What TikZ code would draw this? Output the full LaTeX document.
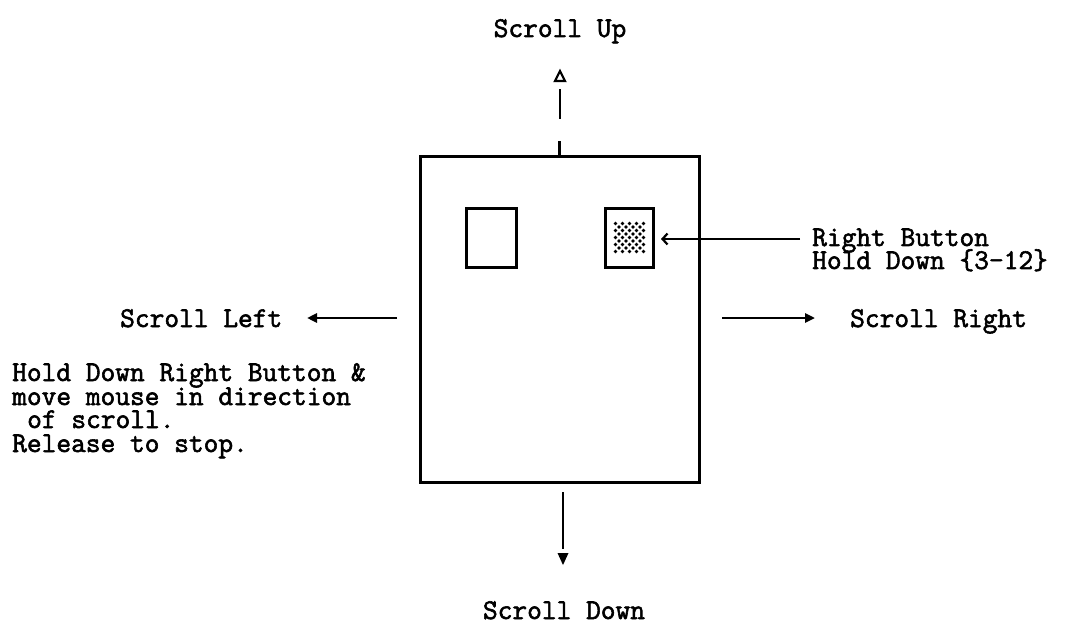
\documentclass[tikz,border=0pt]{standalone}
\usepackage{fontspec}
\setmonofont{Latin Modern Mono}[FakeBold=2]
\usetikzlibrary{arrows.meta}
\begin{document}
\begin{tikzpicture}[x=1pt,y=-1pt,
  lbl/.style={font=\ttfamily\fontsize{28.6}{24}\selectfont, inner sep=0pt, anchor=base west},
  clbl/.style={lbl, anchor=base},
  box/.style={draw, line width=3pt, inner sep=0pt},
  conn/.style={line width=2.6pt},
  tri/.style={conn, -{Triangle[length=10pt,width=9pt]}},
  barb/.style={line width=2.2pt, -{Straight Barb[length=5pt,width=11pt]}}
]
\useasboundingbox (0,0) rectangle (1067,628);
% mouse body and buttons
\node[box, minimum width=279pt, minimum height=325pt] (body) at (559.5,319.5) {};
\node[box, minimum width=50pt, minimum height=58pt] (lbtn) at (491,238) {};
\node[box, minimum width=48pt, minimum height=58pt] (rbtn) at (629.5,238) {};
\foreach \i in {0,...,8}{\foreach \j in {0,...,8}{%
  \ifodd\numexpr\i+\j\relax\else\fill (615.5+3.5*\i,223.5+3.5*\j) circle (1.8pt);\fi}}
% labels
\node[clbl] (up) at (560,37) {Scroll Up};
\node[clbl] (down) at (564,619) {Scroll Down};
\node[lbl] (left) at (120,327) {Scroll Left};
\node[lbl] (right) at (850,327) {Scroll Right};
\node[lbl] (rb1) at (812,246) {Right Button};
\node[lbl] (rb2) at (812,269) {Hold Down \{3-12\}};
\node[lbl] (h1) at (12,381) {Hold Down Right Button \&};
\node[lbl] (h2) at (12,405) {move mouse in direction};
\node[lbl] (h3) at (27,428) {of scroll.};
\node[lbl] (h4) at (12,452) {Release to stop.};
% coordinates
\coordinate (upA) at (560,119);
\coordinate (upB) at (560,89);
\coordinate (uptip) at (560,71);
\coordinate (dnA) at (563,492);
\coordinate (dnB) at (563,549);
\coordinate (dntip) at (563,565);
\coordinate (lA) at (397,318);
\coordinate (lB) at (307,318);
\coordinate (rA) at (722,318);
\coordinate (rB) at (815,318);
\coordinate (bA) at (800,239);
\coordinate (bB) at (661,239);
% up arrow
\draw[conn] (body.north) -- ++(0,-14);
\draw[conn] (upA) -- (upB);
\draw[line width=2.2pt, fill=white, line join=miter] (uptip) -- ++(5,10) -- ++(-10,0) -- cycle;
% down arrow
\draw[conn] (dnA) -- (dnB);
\fill (dntip) -- ++(5.5,-12) -- ++(-11,0) -- cycle;
% left and right arrows
\draw[tri] (lA) -- (lB);
\draw[tri] (rA) -- (rB);
% button pointer
\draw[barb] (bA) -- (bB);
\end{tikzpicture}
\end{document}
